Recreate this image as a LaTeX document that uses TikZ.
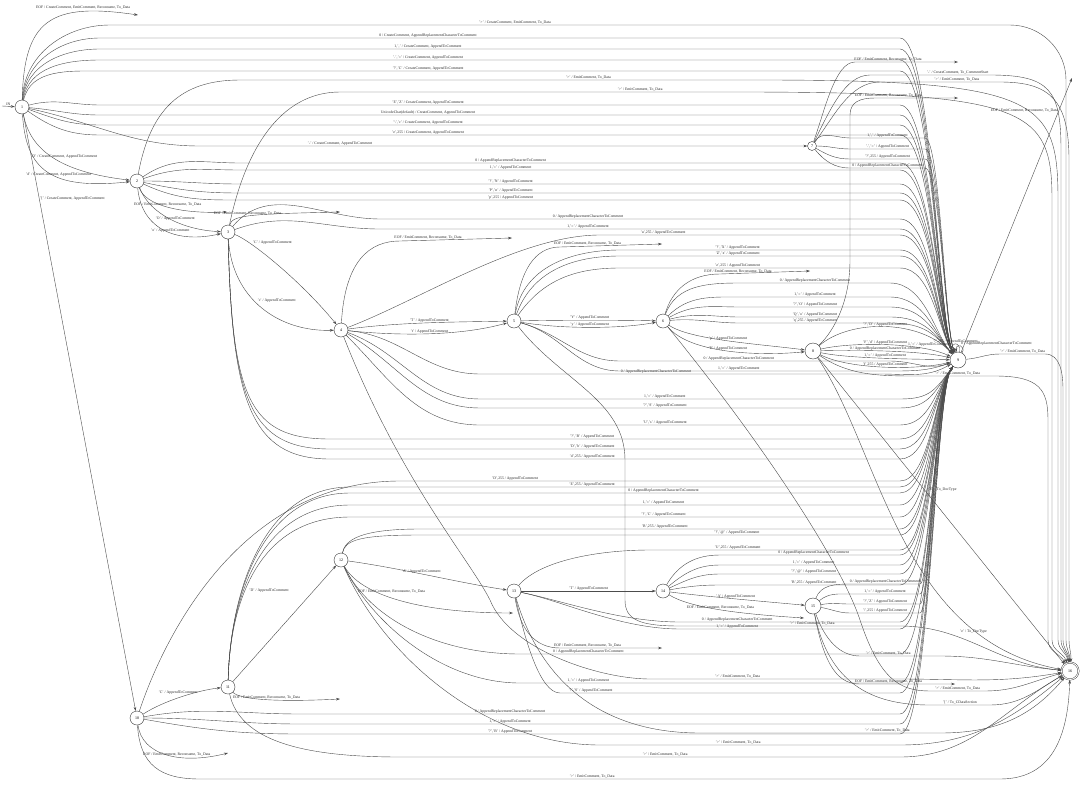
\documentclass[tikz,border=0pt]{standalone}
\usepackage{fontspec}
\setmainfont{Liberation Serif}
\usetikzlibrary{arrows.meta}
\newcommand{\lATC}{AppendToComment}
\newcommand{\lARC}{AppendReplacementCharacterToComment}
\newcommand{\lCC}{CreateComment}
\newcommand{\lETD}{EmitComment, To\_Data}
\newcommand{\lEOF}{EOF / EmitComment, Reconsume, To\_Data}
\begin{document}
\begin{tikzpicture}[x=1pt, y=1pt,
  state/.style={circle, draw=black!80, line width=0.4pt, minimum size=14pt, inner sep=0pt, font=\fontsize{4}{4}\selectfont},
  trans/.style={-{Stealth[length=4pt,width=2.6pt]}, draw=black!70, line width=0.4pt},
  lbl/.style={font=\fontsize{3.8}{4}\selectfont, inner sep=0.6pt, text=black!85}]
  \useasboundingbox (0,0) rectangle (1080,-785);
  % states
  \node[state] (s1) at (22,-107) {1};
  \node[state] (s2) at (137,-181) {2};
  \node[state] (s3) at (228,-232) {3};
  \node[state] (s4) at (341,-330) {4};
  \node[state] (s5) at (514,-321) {5};
  \node[state] (s6) at (663,-321) {6};
  \node[state, minimum size=9pt] (s7) at (812,-146) {7};
  \node[state, minimum size=16pt] (s8) at (813,-351) {8};
  \node[state, minimum size=16pt] (s9) at (958,-360) {9};
  \node[state] (s10) at (137,-718) {10};
  \node[state] (s11) at (228,-687) {11};
  \node[state] (s12) at (341,-560) {12};
  \node[state] (s13) at (514,-591) {13};
  \node[state] (s14) at (663,-591) {14};
  \node[state, minimum size=16pt] (s15) at (813,-606) {15};
  \node[state, minimum size=17pt, double, double distance=1pt] (s16) at (1070,-671) {16};
  % free ends of the EOF transitions
  \coordinate (start) at (2,-106);
  \coordinate (d1) at (138,-15);
  \coordinate (d2) at (227,-212);
  \coordinate (d3) at (340,-212);
  \coordinate (d4) at (512,-238);
  \coordinate (d5) at (662,-244);
  \coordinate (d6) at (810,-271);
  \coordinate (d7) at (958,-62);
  \coordinate (d8) at (958,-98);
  \coordinate (d9) at (1072,-78);
  \coordinate (d10) at (228,-753);
  \coordinate (d11) at (340,-699);
  \coordinate (d12) at (513,-613);
  \coordinate (d13) at (662,-648);
  \coordinate (d14) at (804,-618);
  \coordinate (d15) at (955,-684);

  \draw[trans] (start) -- node[lbl,above]{IN} (s1);

  % state 1
  \draw[trans] (s1) .. controls (24,-20) and (50,-2) .. node[lbl,above=2pt,pos=0.75]{EOF / \lCC, EmitComment, Reconsume, To\_Data} (d1);
  \draw[trans] (s1) to[out=88,in=180] (110,-25) -- node[lbl,above,pos=0.45]{'>' / \lCC, EmitComment, To\_Data} (1010,-25) to[out=0,in=90] (1066,-80) -- (1066,-640) to[out=-90,in=90] (s16);
  \foreach \y/\o/\txt in {38/86/{0 / \lCC, \lARC}, 49/84/{1,',' / \lCC, \lATC}, 60/81/{'.','=' / \lCC, \lATC}, 71/77/{'?','C' / \lCC, \lATC}, 105/15/{'E','Z' / \lCC, \lATC}, 115/-5/{UnicodeChar(default) / \lCC, \lATC}, 125/-20/{'\textbackslash','c' / \lCC, \lATC}, 135/-35/{'e',255 / \lCC, \lATC}}
    \draw[trans] (s1) to[out=\o,in=180] (100,-\y) -- node[lbl,above,pos=0.41]{\txt} (900,-\y) .. controls (932,-\y) and (938,-325) .. (s9);
  \draw[trans] (s1) to[out=-12,in=180] (200,-146) -- node[lbl,above,pos=0.25]{'-' / \lCC, \lATC} (760,-146) to[out=0,in=180] (s7);
  \draw[trans] (s1) .. controls (30,-150) and (60,-172) .. node[lbl,above=5pt,pos=0.6]{'D' / \lCC, \lATC} (s2);
  \draw[trans] (s1) .. controls (26,-170) and (50,-190) .. node[lbl,above,pos=0.6]{'d' / \lCC, \lATC} (s2);
  \draw[trans] (s1) -- node[lbl,pos=0.142,right]{'[' / \lCC, \lATC} (s10);

  % state 2
  \draw[trans] (s2) .. controls (145,-205) and (180,-214) .. node[lbl,above,pos=0.5]{\lEOF} (d2);
  \draw[trans] (s2) .. controls (150,-215) and (185,-230) .. node[lbl,above,pos=0.55]{'O' / \lATC} (s3);
  \draw[trans] (s2) .. controls (142,-232) and (180,-243) .. node[lbl,above,pos=0.55]{'o' / \lATC} (s3);
  \draw[trans] (s2) .. controls (150,-110) and (180,-80) .. (240,-80) -- node[lbl,above,pos=0.67]{'>' / \lETD} (760,-80) .. controls (1040,-80) and (1058,-100) .. (1058,-200) -- (1058,-640) to[out=-90,in=100] (s16);
  \foreach \y/\o/\txt in {163/35/{0 / \lARC}, 170/20/{1,'=' / \lATC}, 184/0/{'?','N' / \lATC}, 193/-12/{'P','n' / \lATC}, 200/-25/{'p',255 / \lATC}}
    \draw[trans] (s2) to[out=\o,in=180] (240,-\y) -- node[lbl,above,pos=0.41]{\txt} (900,-\y) .. controls (932,-\y) and (938,-325) .. (s9);

  % state 3
  \draw[trans] (s3) .. controls (232,-215) and (250,-214) .. node[lbl,above,pos=0.45]{\lEOF} (d3);
  \draw[trans] (s3) .. controls (245,-150) and (280,-92) .. (340,-92) -- node[lbl,above,pos=0.75]{'>' / \lETD} (740,-92) .. controls (1030,-92) and (1052,-110) .. (1052,-200) -- (1052,-640) to[out=-90,in=110] (s16);
  \foreach \y/\o/\txt in {219/50/{0 / \lARC}, 229/20/{1,'=' / \lATC}}
    \draw[trans] (s3) to[out=\o,in=180] (380,-\y) -- node[lbl,above,pos=0.4]{\txt} (900,-\y) .. controls (932,-\y) and (938,-330) .. (s9);
  \draw[trans] (s3) .. controls (250,-240) and (300,-280) .. node[lbl,above right,pos=0.25]{'C' / \lATC} (s4);
  \draw[trans] (s3) .. controls (232,-300) and (280,-332) .. node[lbl,above right,pos=0.45]{'c' / \lATC} (s4);
  \foreach \y/\txt in {439/{'?','B' / \lATC}, 449/{'D','b' / \lATC}, 459/{'d',255 / \lATC}}
    \draw[trans] (s3) .. controls (232,-400) and (250,-\y) .. (330,-\y) -- node[lbl,above,pos=0.46]{\txt} (900,-\y) .. controls (930,-\y) and (935,-390) .. (s9);

  % state 4
  \draw[trans] (s4) .. controls (345,-260) and (370,-241) .. (400,-241) -- node[lbl,above,pos=0.25]{\lEOF} (d4);
  \draw[trans] (s4) .. controls (420,-300) and (520,-235) .. (600,-235) -- node[lbl,above,pos=0.21]{'u',255 / \lATC} (900,-235) .. controls (932,-235) and (938,-330) .. (s9);
  \draw[trans] (s4) .. controls (400,-322) and (460,-322) .. node[lbl,above,pos=0.5]{'T' / \lATC} (s5);
  \draw[trans] (s4) .. controls (400,-336) and (460,-336) .. node[lbl,above,pos=0.5]{'t' / \lATC} (s5);
  \draw[trans] (s4) to[out=-5,in=180] (480,-374) -- node[lbl,above,pos=0.44]{0 / \lARC} (880,-374) to[out=0,in=210] (s9);
  \foreach \y/\o/\txt in {399/-20/{1,'=' / \lATC}, 408/-30/{'?','S' / \lATC}, 425/-45/{'U','s' / \lATC}}
    \draw[trans] (s4) to[out=\o,in=180] (480,-\y) -- node[lbl,above,pos=0.44]{\txt} (900,-\y) .. controls (930,-\y) and (935,-390) .. (s9);
  \draw[trans] (s4) .. controls (400,-480) and (470,-560) .. (490,-600) .. controls (510,-650) and (600,-679) .. (650,-679) -- node[lbl,above,pos=0.35]{'>' / \lETD} (900,-679) to[out=0,in=190] (s16);

  % state 5
  \draw[trans] (s5) .. controls (520,-270) and (535,-247) .. (560,-247) -- node[lbl,above,pos=0.27]{\lEOF} (d5);
  \foreach \y/\o/\txt in {250/80/{'?','X' / \lATC}, 256/70/{'Z','x' / \lATC}, 268/55/{'z',255 / \lATC}}
    \draw[trans] (s5) to[out=\o,in=180] (620,-\y) -- node[lbl,above,pos=0.42]{\txt} (900,-\y) .. controls (932,-\y) and (938,-330) .. (s9);
  \draw[trans] (s5) .. controls (560,-320) and (620,-320) .. node[lbl,above,pos=0.5]{'Y' / \lATC} (s6);
  \draw[trans] (s5) .. controls (560,-329) and (620,-329) .. node[lbl,above,pos=0.5]{'y' / \lATC} (s6);
  \foreach \y/\txt in {361/{0 / \lARC}, 371/{1,'=' / \lATC}}
    \draw[trans] (s5) to[out=-15,in=180] (620,-\y) -- node[lbl,above,pos=0.44]{\txt} (890,-\y) to[out=0,in=200] (s9);
  \draw[trans] (s5) .. controls (560,-380) and (625,-400) .. (625,-460) -- (625,-600) .. controls (625,-620) and (640,-626) .. (680,-626) -- node[lbl,above,pos=0.6]{'>' / \lETD} (900,-626) to[out=0,in=175] (s16);

  % state 6
  \draw[trans] (s6) .. controls (672,-290) and (690,-274) .. (720,-274) -- node[lbl,above,pos=0.2]{\lEOF} (d6);
  \foreach \y/\o/\txt in {283/70/{0 / \lARC}, 297/45/{1,'=' / \lATC}, 307/30/{'?','O' / \lATC}, 317/15/{'Q','o' / \lATC}, 323/5/{'q',255 / \lATC}}
    \draw[trans] (s6) to[out=\o,in=180] (740,-\y) -- node[lbl,above,pos=0.5]{\txt} (890,-\y) .. controls (925,-\y) and (935,-335) .. (s9);
  \draw[trans] (s6) .. controls (690,-340) and (760,-344) .. node[lbl,above,pos=0.5]{'p' / \lATC} (s8);
  \draw[trans] (s6) .. controls (690,-354) and (760,-356) .. node[lbl,above,pos=0.5]{'P' / \lATC} (s8);
  \draw[trans] (s6) .. controls (760,-440) and (840,-560) .. (860,-620) .. controls (880,-680) and (900,-691) .. (930,-691) -- node[lbl,above,pos=0.5]{'>' / \lETD} (985,-691) to[out=0,in=-165] (s16);

  % state 7
  \draw[trans] (s7) .. controls (825,-110) and (835,-62) .. (855,-62) -- node[lbl,above,pos=0.32]{\lEOF} (d7);
  \draw[trans] (s7) .. controls (830,-110) and (845,-75) .. (870,-75) -- node[lbl,above,pos=0.73]{'-' / \lCC, To\_CommentStart} (990,-75) .. controls (1050,-75) and (1061,-90) .. (1061,-150) -- (1061,-640) to[out=-90,in=97] (s16);
  \draw[trans] (s7) .. controls (835,-115) and (850,-82) .. (880,-82) -- node[lbl,above,pos=0.64]{'>' / \lETD} (1000,-82) .. controls (1050,-82) and (1069,-100) .. (1069,-160) -- (1069,-640) to[out=-90,in=85] (s16);
  \foreach \y/\o/\txt in {138/60/{1,',' / \lATC}, 149/0/{'.','=' / \lATC}, 159/-30/{'?',255 / \lATC}, 168/-50/{0 / \lARC}}
    \draw[trans] (s7) to[out=\o,in=180] (850,-\y) -- node[lbl,above,pos=0.5]{\txt} (925,-\y) .. controls (940,-\y) and (945,-330) .. (s9);

  % state 8
  \foreach \c/\txt in {319/{'?','D' / \lATC}, 342/{'F','d' / \lATC}, 350/{0 / \lARC}, 359/{1,'=' / \lATC}, 370/{'f',255 / \lATC}}
    \draw[trans] (s8) .. controls (850,-\c) and (920,-\c) .. node[lbl,above]{\txt} (s9);
  \draw[trans] (s8) .. controls (835,-330) and (850,-300) .. (850,-260) -- (850,-115) .. controls (850,-102) and (860,-98) .. (875,-98) -- node[lbl,above,pos=0.16]{\lEOF} (d8);
  \draw[trans] (s8) -- node[lbl,pos=0.43,right=4pt]{'E' / To\_DocType} (s16);
  \draw[trans] (s8) .. controls (880,-450) and (900,-640) .. node[lbl,below,pos=0.78]{'e' / To\_DocType} (s16);
  \draw[trans] (s8) .. controls (850,-376) and (880,-376) .. (920,-376) -- node[lbl,above,pos=0.5]{'>' / \lETD} (995,-376) .. controls (1040,-376) and (1048,-390) .. (1048,-420) -- (1048,-640) to[out=-90,in=120] (s16);

  % state 9
  \draw[trans] (s9) -- node[lbl,pos=0.88,left]{\lEOF} (d9);
  \draw[trans] (s9) to[out=5,in=180] (1000,-354) -- node[lbl,above,pos=0.5]{'>' / \lETD} (1045,-354) to[out=0,in=90] (1063,-390) -- (1063,-640) to[out=-90,in=93] (s16);
  \draw[trans] (s9) to[out=105,in=135,min distance=10pt] node[lbl,above left]{1,'=' / \lATC} (s9);
  \draw[trans] (s9) to[out=80,in=120,min distance=12pt] node[lbl,above]{'?',255 / \lATC} (s9);
  \draw[trans] (s9) to[out=60,in=100,min distance=9pt] node[lbl,above right]{0 / \lARC} (s9);

  % state 10
  \draw[trans] (s10) .. controls (165,-700) and (200,-690) .. node[lbl,above=3pt,pos=0.45]{'C' / \lATC} (s11);
  \draw[trans] (s10) .. controls (142,-755) and (180,-765) .. node[lbl,above,pos=0.6]{\lEOF} (d10);
  \draw[trans] (s10) .. controls (140,-765) and (160,-779) .. (200,-779) -- node[lbl,above,pos=0.49]{'>' / \lETD} (1000,-779) .. controls (1050,-779) and (1068,-740) .. (s16);
  \draw[trans] (s10) .. controls (170,-620) and (250,-481) .. (400,-481) -- node[lbl,above,pos=0.23]{'D',255 / \lATC} (900,-481) .. controls (930,-481) and (935,-390) .. (s9);
  \foreach \y/\o/\txt in {714/10/{0 / \lARC}, 724/0/{1,'=' / \lATC}, 734/-10/{'?','B' / \lATC}}
    \draw[trans] (s10) to[out=\o,in=180] (300,-\y) -- node[lbl,above,pos=0.35]{\txt} (900,-\y) .. controls (930,-\y) and (935,-390) .. (s9);

  % state 11
  \draw[trans] (s11) -- node[lbl,pos=0.78,left=24pt]{'D' / \lATC} (s12);
  \draw[trans] (s11) .. controls (240,-700) and (280,-702) .. node[lbl,above,pos=0.5]{\lEOF} (d11);
  \foreach \y/\p/\txt in {487/0.44/{'E',255 / \lATC}, 493/0.57/{0 / \lARC}, 505/0.57/{1,'=' / \lATC}, 517/0.57/{'?','C' / \lATC}}
    \draw[trans] (s11) .. controls (230,-600) and (260,-\y) .. (350,-\y) -- node[lbl,above,pos=\p]{\txt} (900,-\y) .. controls (930,-\y) and (935,-390) .. (s9);
  \draw[trans] (s11) .. controls (240,-740) and (300,-757) .. (400,-757) -- node[lbl,above,pos=0.53]{'>' / \lETD} (900,-757) to[out=0,in=-150] (s16);

  % state 12
  \draw[trans] (s12) .. controls (400,-568) and (460,-583) .. node[lbl,above,pos=0.45]{'A' / \lATC} (s13);
  \draw[trans] (s12) .. controls (360,-595) and (420,-613) .. node[lbl,above=4pt,pos=0.45]{\lEOF} (d12);
  \foreach \y/\p/\txt in {529/0.51/{'B',255 / \lATC}, 535/0.66/{'?','@' / \lATC}}
    \draw[trans] (s12) .. controls (345,-540) and (360,-\y) .. (420,-\y) -- node[lbl,above,pos=\p]{\txt} (900,-\y) .. controls (930,-\y) and (935,-390) .. (s9);
  \foreach \y/\txt in {654/{0 / \lARC}, 683/{1,'=' / \lATC}}
    \draw[trans] (s12) .. controls (370,-620) and (440,-\y) .. (520,-\y) -- node[lbl,above,pos=0.18]{\txt} (900,-\y) .. controls (930,-\y) and (935,-390) .. (s9);
  \draw[trans] (s12) .. controls (380,-650) and (480,-745) .. (600,-745) -- node[lbl,above,pos=0.46]{'>' / \lETD} (900,-745) to[out=0,in=-140] (s16);

  % state 13
  \draw[trans] (s13) -- node[lbl,above]{'T' / \lATC} (s14);
  \draw[trans] (s13) .. controls (520,-630) and (535,-648) .. (560,-648) -- node[lbl,above,pos=0.27]{\lEOF} (d13);
  \draw[trans] (s13) .. controls (540,-560) and (600,-550) .. (650,-550) -- node[lbl,above,pos=0.35]{'U',255 / \lATC} (900,-550) .. controls (930,-550) and (935,-390) .. (s9);
  \foreach \y/\txt in {622/{0 / \lARC}, 629/{1,'=' / \lATC}}
    \draw[trans] (s13) .. controls (560,-600) and (620,-\y) .. (680,-\y) -- node[lbl,above,pos=0.26]{\txt} (900,-\y) .. controls (930,-\y) and (935,-390) .. (s9);
  \draw[trans] (s13) .. controls (525,-640) and (540,-693) .. (560,-693) -- node[lbl,above,pos=0.09]{'?','S' / \lATC} (900,-693) .. controls (930,-693) and (935,-390) .. (s9);
  \draw[trans] (s13) .. controls (540,-680) and (600,-733) .. (700,-733) -- node[lbl,above,pos=0.78]{'>' / \lETD} (940,-733) to[out=0,in=-130] (s16);

  % state 14
  \draw[trans] (s14) .. controls (700,-596) and (770,-602) .. node[lbl,above,pos=0.5]{'A' / \lATC} (s15);
  \draw[trans] (s14) .. controls (690,-608) and (740,-614) .. node[lbl,above,pos=0.5]{\lEOF} (d14);
  \foreach \y/\o/\txt in {555/60/{0 / \lARC}, 565/40/{1,'=' / \lATC}, 574/25/{'?','@' / \lATC}, 585/10/{'B',255 / \lATC}}
    \draw[trans] (s14) to[out=\o,in=180] (720,-\y) -- node[lbl,above,pos=0.52]{\txt} (900,-\y) .. controls (930,-\y) and (935,-390) .. (s9);

  % state 15
  \foreach \y/\o/\txt in {584/70/{0 / \lARC}, 594/40/{1,'=' / \lATC}, 604/10/{'?','Z' / \lATC}, 613/-10/{'\textbackslash',255 / \lATC}}
    \draw[trans] (s15) to[out=\o,in=180] (850,-\y) -- node[lbl,above,pos=0.5]{\txt} (920,-\y) .. controls (930,-\y) and (935,-390) .. (s9);
  \draw[trans] (s15) .. controls (825,-640) and (840,-656) .. (860,-656) -- node[lbl,above,pos=0.35]{'>' / \lETD} (940,-656) to[out=0,in=175] (s16);
  \draw[trans] (s15) .. controls (825,-670) and (840,-684) .. (860,-684) -- node[lbl,above,pos=0.3]{\lEOF} (d15);
  \draw[trans] (s15) .. controls (830,-690) and (880,-705) .. (930,-705) -- node[lbl,above,pos=0.5]{'[' / To\_CDataSection} (990,-705) to[out=0,in=-150] (s16);
\end{tikzpicture}
\end{document}
